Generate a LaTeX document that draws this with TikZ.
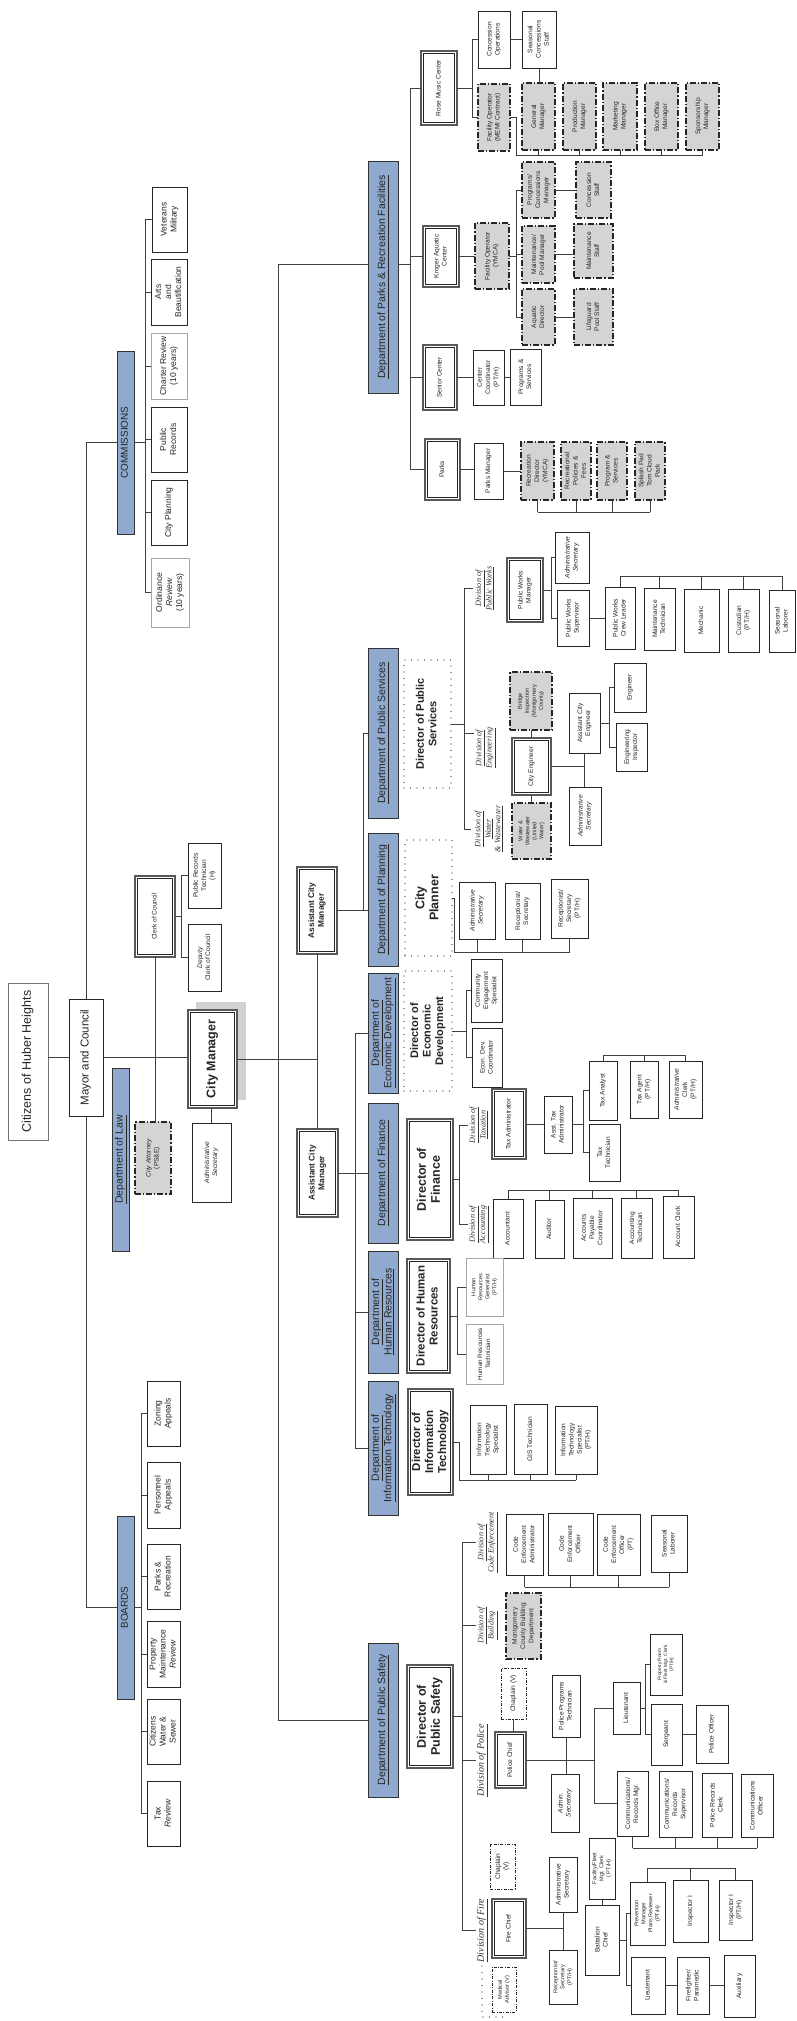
\documentclass[tikz,border=0pt]{standalone}
\usepackage{fontspec}
\setmainfont{Liberation Sans}
\newfontfamily\serifit{Liberation Serif}
\usepackage{graphicx}
\usetikzlibrary{calc}
\definecolor{barblue}{RGB}{143,170,206}
\newcommand\rt[1]{\rotatebox{90}{\begin{tabular}{@{}c@{}}#1\end{tabular}}}
\newcommand\obox[7]{\node[#6, minimum width={(#4)-(#2)}, minimum height={(#5)-(#3)}] (#1) at ({((#2)+(#4))/2},{((#3)+(#5))/2}) {\rt{#7}};}
\newcommand\dframe[1]{\draw[black!85, line width=0.6pt] ([shift={(2.3pt,-2.3pt)}]#1.north west) rectangle ([shift={(-2.3pt,2.3pt)}]#1.south east);}
\tikzset{
 base/.style={inner sep=0pt, outer sep=0pt, align=center, text=black!85},
 box/.style={base, draw=black!85, line width=0.7pt, fill=white, font=\fontsize{6.6}{8.2}\selectfont},
 sm/.style={font=\fontsize{5.6}{7}\selectfont},
 lbox/.style={box, draw=black!35, line width=1pt},
 dblbox/.style={box, draw=black!65, line width=1.5pt},
 gbox/.style={box, fill=black!17, draw=black!85, line width=1.3pt, dash pattern=on 6pt off 2pt on 1.2pt off 2pt},
 vbox/.style={box, line width=0.6pt, dash pattern=on 3pt off 1.5pt on 0.8pt off 1.5pt},
 dotbox/.style={base, draw=black!85, line width=1.3pt, line cap=round, dash pattern=on 0pt off 6.5pt, font=\bfseries\fontsize{11}{12.5}\selectfont},
 bar/.style={base, draw=black!80, line width=0.8pt, fill=barblue, text=black!85, font=\fontsize{10.5}{12}\selectfont},
 bigbox/.style={dblbox, font=\bfseries\fontsize{11.5}{13}\selectfont},
 cbox/.style={box, font=\fontsize{8.5}{10}\selectfont},
 dlab/.style={base, font=\serifit\itshape\fontsize{8.2}{9.5}\selectfont, text=black!80},
 conn/.style={draw=black!75, line width=0.65pt},
}
\begin{document}
\begin{tikzpicture}[x=1pt,y=-1pt]
\useasboundingbox (0,0) rectangle (796,2021);
\fill[white] (0,0) rectangle (796,2021);
% ---------- top level ----------
\obox{cit}{8}{983}{48}{1140}{box,draw=black!55,font=\fontsize{12.5}{14}\selectfont}{Citizens of Huber Heights}
\obox{may}{69}{999}{103}{1116}{box,font=\fontsize{11.5}{13}\selectfont}{Mayor and Council}
\obox{com}{117}{351}{134}{534}{bar,font=\fontsize{10}{12}\selectfont}{COMMISSIONS}
\obox{brd}{117}{1516}{134}{1699}{bar,font=\fontsize{10}{12}\selectfont}{BOARDS}
\obox{law}{112}{1068}{129}{1251}{bar}{\underline{Department of Law}}
% commissions
\obox{vet}{152}{187}{187}{252}{cbox}{Veterans\\Military}
\obox{arts}{151}{259}{187}{325}{cbox}{Arts\\and\\Beautification}
\obox{chr}{151}{333}{187}{399}{cbox,draw=black!35,line width=1pt}{Charter Review\\(10 years)}
\obox{prec}{151}{407}{187}{472}{cbox}{Public\\Records}
\obox{cpl}{151}{480}{187}{545}{cbox}{City Planning}
\obox{ord}{151}{558}{189}{627}{cbox,draw=black!35,line width=1pt}{Ordinance\\\textit{Review}\\(10 years)}
% boards
\obox{zon}{147}{1381}{180}{1446}{cbox}{Zoning\\Appeals}
\obox{pers}{147}{1462}{180}{1528}{cbox}{Personnel\\Appeals}
\obox{pr}{147}{1544}{180}{1609}{cbox}{Parks \&\\Recreation}
\obox{pm}{147}{1621}{180}{1687}{cbox}{Property\\Maintenance\\\textit{Review}}
\obox{cws}{147}{1699}{180}{1764}{cbox}{Citizens\\Water \&\\Sewer}
\obox{tax}{147}{1781}{180}{1846}{cbox}{Tax\\\textit{Review}}
% council / manager
\obox{clerk}{135}{876}{175}{957}{dblbox}{Clerk of Council}
\obox{prt}{188}{843}{221}{908}{box}{Public Records\\Technician\\(H)}
\obox{dcc}{188}{924}{221}{991}{box}{\textit{Deputy}\\Clerk of Council}
\obox{atty}{135}{1122}{171}{1194}{gbox}{\textit{City Attorney}\\(PS\&E)}
\fill[black!18] (196,1002) rectangle (246,1100);
\obox{cm}{188}{1010}{237}{1108}{bigbox,line width=2pt,font=\bfseries\fontsize{12.5}{14}\selectfont}{City Manager}
\obox{cmsec}{192}{1123}{231}{1202}{box}{\textit{Administrative}\\\textit{Secretary}}
\obox{acm1}{297}{867}{337}{954}{bigbox,font=\bfseries\fontsize{8.3}{9.8}\selectfont}{Assistant City\\Manager}
\obox{acm2}{297}{1129}{338}{1217}{bigbox,font=\bfseries\fontsize{8.3}{9.8}\selectfont}{Assistant City\\Manager}
% department bars
\obox{parksbar}{368}{161}{398}{393}{bar}{\underline{Department of Parks \& Recreation Facilities}}
\obox{dps}{368}{648}{398}{818}{bar}{\underline{Department of Public Services}}
\obox{dplan}{368}{833}{398}{966}{bar}{\underline{Department of Planning}}
\obox{deco}{368}{973}{398}{1093}{bar}{\underline{Department of}\\\underline{Economic Development}}
\obox{dfin}{368}{1103}{398}{1243}{bar}{\underline{Department of Finance}}
\obox{dhr}{368}{1251}{398}{1373}{bar}{\underline{Department of}\\\underline{Human Resources}}
\obox{dit}{368}{1381}{398}{1515}{bar}{\underline{Department of}\\\underline{Information Technology}}
\obox{dpsaf}{368}{1643}{398}{1797}{bar}{\underline{Department of Public Safety}}
% ---------- parks ----------
\obox{rose}{421}{51}{457}{125}{dblbox}{Rose Music Center}
\obox{krog}{423}{226}{459}{287}{dblbox}{Kroger Aquatic\\Center}
\obox{senior}{423}{345}{457}{410}{dblbox}{Senior Center}
\obox{parks}{425}{439}{460}{500}{dblbox}{Parks}
\obox{conc}{478}{11}{510}{68}{box}{Concession\\Operations}
\obox{scs}{522}{11}{556}{68}{box}{Seasonal\\Concessions\\Staff}
\obox{fomemi}{478}{84}{510}{151}{gbox}{Facility Operator\\(MEMI Contract)}
\obox{gm}{522}{83}{555}{150}{gbox}{General\\Manager}
\obox{prodm}{563}{83}{596}{150}{gbox}{Production\\Manager}
\obox{mktm}{603}{83}{637}{150}{gbox}{Marketing\\Manager}
\obox{boxm}{645}{83}{678}{150}{gbox}{Box Office\\Manager}
\obox{spm}{686}{83}{719}{150}{gbox}{Sponsorship\\Manager}
\obox{foy}{475}{223}{509}{289}{gbox}{Facility Operator\\(YMCA)}
\obox{pcm}{522}{162}{555}{218}{gbox}{Programs/\\Concessions\\Manager}
\obox{mpm}{522}{226}{555}{283}{gbox}{Maintenance/\\Pool Manager}
\obox{aqd}{522}{289}{555}{345}{gbox}{Aquatic\\Director}
\obox{cst}{576}{162}{611}{218}{gbox}{Concession\\Staff}
\obox{mst}{574}{224}{613}{278}{gbox}{Maintenance\\Staff}
\obox{lps}{574}{289}{613}{345}{gbox}{Lifeguard\\Pool Staff}
\obox{ccoord}{473}{350}{504}{405}{box}{Center\\Coordinator\\(PT/H)}
\obox{psv}{510}{349}{541}{405}{box}{Programs \&\\Services}
\obox{pmgr}{474}{443}{503}{499}{box}{Parks Manager}
\obox{recd}{521}{442}{554}{500}{gbox}{Recreation\\Director\\(YMCA)}
\obox{rpf}{561}{442}{591}{500}{gbox}{Recreational\\Policies \&\\Fees}
\obox{pgs}{597}{442}{627}{500}{gbox}{Program \&\\Services}
\obox{spl}{635}{442}{665}{500}{gbox}{Splash Pad\\Tom Cloud\\Park}
% ---------- public services ----------
\obox{dpsdir}{404}{660}{451}{788}{dotbox}{Director of Public\\Services}
\obox{divpw}{473}{560}{496}{617}{dlab}{\underline{Division of}\\\underline{Public Works}}
\obox{diveng}{474}{723}{496}{773}{dlab}{\underline{Division of}\\\underline{Engineering}}
\obox{divww}{471}{800}{506}{858}{dlab}{\underline{Division of}\\\underline{Water}\\\underline{\& Wastewater}}
\obox{pwm}{507}{558}{543}{622}{dblbox}{Public Works\\Manager}
\obox{asec1}{555}{532}{589}{583}{box}{\textit{Administrative}\\\textit{Secretary}}
\obox{pws}{557}{590}{589}{646}{box}{Public Works\\Supervisor}
\obox{pwcl}{605}{587}{635}{649}{box}{Public Works\\Crew Leader}
\obox{mtech}{644}{588}{675}{650}{box}{Maintenance\\Technician}
\obox{mech}{684}{589}{719}{652}{box}{Mechanic}
\obox{cust}{728}{589}{759}{652}{box}{Custodian\\(PT/H)}
\obox{slab1}{769}{590}{795}{652}{box}{Seasonal\\Laborer}
\obox{ceng}{512}{738}{551}{795}{dblbox}{City Engineer}
\obox{bridge}{510}{672}{552}{730}{gbox,sm}{Bridge\\Inspection\\(Montgomery\\County)}
\obox{wat}{512}{803}{551}{859}{gbox,sm}{Water \&\\Wastewater\\(United\\Water)}
\obox{ace}{569}{693}{600}{753}{box}{Assistant City\\Engineer}
\obox{asec2}{569}{787}{601}{845}{box}{\textit{Administrative}\\\textit{Secretary}}
\obox{eng}{614}{663}{646}{712}{box}{Engineer}
\obox{einsp}{616}{723}{647}{771}{box}{Engineering\\Inspector}
% ---------- planning ----------
\obox{cplan}{405}{840}{452}{956}{dotbox,font=\bfseries\fontsize{12.5}{14}\selectfont}{City\\Planner}
\obox{asec3}{459}{882}{495}{939}{box}{\textit{Administrative}\\\textit{Secretary}}
\obox{rsec}{505}{883}{540}{939}{box}{Receptionist/\\Secretary}
\obox{rsec2}{551}{879}{588}{938}{box}{Receptionist/\\Secretary\\(PT/H)}
% ---------- economic development ----------
\obox{decdir}{404}{971}{452}{1091}{dotbox}{Director of\\Economic\\Development}
\obox{ces}{471}{959}{502}{1022}{box}{Community\\Engagement\\Specialist}
\obox{edc}{472}{1028}{502}{1087}{box}{Econ. Dev.\\Coordinator}
% ---------- finance ----------
\obox{dfdir}{407}{1119}{453}{1240}{bigbox,font=\bfseries\fontsize{12.5}{14}\selectfont}{Director of\\Finance}
\obox{divtax}{468}{1100}{489}{1150}{dlab}{\underline{Division of}\\\underline{Taxation}}
\obox{divacc}{468}{1202}{489}{1247}{dlab}{\underline{Division of}\\\underline{Accounting}}
\obox{taxa}{492}{1089}{526}{1159}{dblbox}{Tax Administrator}
\obox{ata}{544}{1096}{572}{1153}{box}{Asst. Tax\\Administrator}
\obox{tan}{589}{1061}{617}{1120}{box}{Tax Analyst}
\obox{tag}{630}{1061}{658}{1118}{box}{Tax Agent\\(PT/H)}
\obox{aclk}{669}{1061}{702}{1118}{box}{\textit{Administrative}\\Clerk\\(PT/H)}
\obox{ttech}{589}{1124}{620}{1181}{box}{Tax\\Technician}
\obox{acct}{493}{1199}{523}{1258}{box}{Accountant}
\obox{aud}{535}{1200}{564}{1258}{box}{Auditor}
\obox{apc}{573}{1198}{612}{1258}{box}{Accounts\\Payable\\Coordinator}
\obox{atech}{621}{1198}{652}{1258}{box}{Accounting\\Technician}
\obox{aclerk}{663}{1196}{694}{1258}{box}{Account Clerk}
% ---------- human resources ----------
\obox{dhrdir}{407}{1259}{450}{1373}{bigbox,font=\bfseries\fontsize{11.5}{13}\selectfont}{Director of Human\\Resources}
\obox{hrg}{466}{1258}{503}{1316}{lbox,sm}{Human\\Resources\\Generalist\\(PT/H)}
\obox{hrt}{466}{1324}{503}{1384}{lbox,font=\fontsize{6.3}{8}\selectfont}{Human Resources\\Technician}
% ---------- IT ----------
\obox{ditdir}{408}{1389}{453}{1495}{bigbox,font=\bfseries\fontsize{11.5}{13}\selectfont}{Director of\\Information\\Technology}
\obox{its}{470}{1405}{506}{1474}{box}{Information\\Technology\\Specialist}
\obox{gis}{514}{1404}{547}{1474}{box}{GIS Technician}
\obox{its2}{555}{1406}{597}{1474}{box}{Information\\Technology\\Specialist\\(PT/H)}
% ---------- public safety ----------
\obox{dpsdir2}{407}{1665}{453}{1768}{bigbox,font=\bfseries\fontsize{12.5}{14}\selectfont}{Director of\\Public Safety}
\obox{divce}{476}{1505}{498}{1580}{dlab}{\underline{Division of}\\\underline{Code Enforcement}}
\obox{divb}{476}{1606}{498}{1645}{dlab}{\underline{Division of}\\\underline{Building}}
\obox{divpol}{476}{1723}{488}{1798}{dlab,font=\serifit\itshape\fontsize{10}{11}\selectfont}{\underline{Division of Police}}
\obox{divfire}{476}{1898}{488}{1963}{dlab,font=\serifit\itshape\fontsize{10}{11}\selectfont}{\underline{Division of Fire}}
\obox{ceadm}{506}{1514}{543}{1575}{box}{Code\\Enforcement\\Administrator}
\obox{ceo}{548}{1513}{593}{1575}{box}{Code\\Enforcement\\Officer}
\obox{ceopt}{597}{1514}{640}{1575}{box}{Code\\Enforcement\\Officer\\(PT)}
\obox{slab2}{651}{1515}{687}{1572}{box}{Seasonal\\Laborer}
\obox{mcbd}{506}{1593}{541}{1659}{gbox}{Montgomery\\County Building\\Department}
\obox{pchief}{495}{1732}{526}{1788}{dblbox}{Police Chief}
\obox{chap1}{501}{1668}{526}{1719}{vbox}{Chaplain (V)}
\obox{ppt}{552}{1675}{580}{1737}{box}{Police Programs\\Technician}
\obox{asec4}{551}{1774}{579}{1832}{box}{\textit{Admin.}\\\textit{Secretary}}
\obox{plt}{613}{1682}{640}{1734}{box}{Lieutenant}
\obox{prf}{650}{1634}{682}{1695}{box,font=\fontsize{4.8}{6}\selectfont}{Property Room\\\& Fleet Mgt. Clerk\\(PT/H)}
\obox{sgt}{651}{1704}{682}{1765}{box}{Sergeant}
\obox{pof}{696}{1705}{728}{1763}{box}{Police Officer}
\obox{crm}{617}{1771}{648}{1836}{box}{Communications/\\Records Mgr.}
\obox{crs}{659}{1771}{692}{1837}{box}{Communications/\\Records\\Supervisor}
\obox{prc}{702}{1773}{732}{1837}{box}{Police Records\\Clerk}
\obox{cof}{741}{1774}{773}{1837}{box}{Communications\\Officer}
\obox{fchief}{492}{1899}{526}{1958}{dblbox}{Fire Chief}
\obox{chap2}{490}{1844}{515}{1889}{vbox}{Chaplain\\(V)}
\obox{madv}{492}{1967}{516}{2012}{vbox,sm}{Medical\\Advisor (V)}
\obox{asec5}{549}{1857}{577}{1912}{box}{Administrative\\Secretary}
\obox{rsec3}{549}{1950}{577}{2004}{box,sm}{Receptionist/\\Secretary\\(PT/H)}
\obox{ffmc}{589}{1838}{615}{1899}{box,sm}{Facility/Fleet\\Mgt. Clerk\\( PT/H)}
\obox{bchief}{585}{1905}{619}{1975}{box}{Battalion\\Chief}
\obox{pmpr}{630}{1882}{665}{1945}{box,sm}{Prevention\\Manager\\Plans Reviewer\\(PT/H)}
\obox{insp1}{673}{1880}{708}{1942}{box}{Inspector I}
\obox{insp2}{719}{1880}{752}{1940}{box}{Inspector I\\(PT/H)}
\obox{flt}{631}{1957}{665}{2014}{box}{Lieutenant}
\obox{ffp}{677}{1957}{709}{2014}{box}{Firefighter/\\Paramedic}
\obox{aux}{724}{1955}{755}{2017}{box}{Auxiliary}
\draw[line width=1.3pt, line cap=round, dash pattern=on 0pt off 6.5pt, draw=black!85] (482,1966) -- (482,2017) -- (506,2017);
% inner frames of the double-bordered boxes
\foreach \n in {clerk,cm,acm1,acm2,rose,krog,senior,parks,pwm,ceng,dfdir,taxa,dhrdir,ditdir,dpsdir2,pchief,fchief} {\dframe{\n}}
% ================= connectors =================
\draw[conn, line width=1pt] (cit.east |- may.west) -- (may.west);
\draw[conn] (may.north) |- (com.west);
\draw[conn] (may.south) |- (brd.west);
\draw[conn] (may.east) -- (cm.west |- may.east);
\coordinate (cb) at (145,0);
\draw[conn] (com.east) -- (com.east -| cb);
\draw[conn] (cb |- vet.west) -- (cb |- ord.west);
\foreach \n in {vet,arts,chr,prec,cpl,ord} \draw[conn] (cb |- \n.west) -- (\n.west);
\coordinate (bb2) at (141,0);
\draw[conn] (brd.east) -- (brd.east -| bb2);
\draw[conn] (bb2 |- zon.west) -- (bb2 |- tax.west);
\foreach \n in {zon,pers,pr,pm,cws,tax} \draw[conn] (bb2 |- \n.west) -- (\n.west);
\draw[conn] (clerk.south) -- (clerk.south |- atty.north);
\coordinate (clb) at (181,0);
\draw[conn] (clerk.east) -- (clerk.east -| clb);
\draw[conn] (prt.west) -| (clb |- dcc.west) -- (dcc.west);
\draw[conn] (cmsec.north) -- (cmsec.north |- cm.south);
\draw[conn] (cm.east) -- (cm.east -| acm1.south);
\draw[conn] (acm1.south) -- (acm1.south |- acm2.north);
\coordinate (bbus) at (278,0);
\coordinate (pkj) at ([yshift=13pt]parksbar.west);
\coordinate (pkj2) at ([yshift=13pt]parksbar.east);
\draw[conn] (pkj) -| (bbus |- dpsaf.west) -- (dpsaf.west);
\coordinate (ab1) at (363,0);
\draw[conn] (acm1.east) -- (acm1.east -| dplan.west);
\draw[conn] (acm1.east -| ab1) |- (dps.west);
\coordinate (ab2) at (355,0);
\draw[conn] (acm2.east) -- (acm2.east -| dfin.west);
\draw[conn] (ab2 |- deco.west) -- (ab2 |- dit.west);
\foreach \n in {deco,dhr,dit} \draw[conn] (ab2 |- \n.west) -- (\n.west);
% parks
\coordinate (pb) at (410,0);
\draw[conn] (pkj2) -| (pb |- rose.west) -- (rose.west);
\draw[conn] (pb |- rose.west) -- (pb |- parks.west);
\foreach \n in {krog,senior,parks} \draw[conn] (pb |- \n.west) -- (\n.west);
\coordinate (rb1) at (472,0);
\draw[conn] (rose.east) -- (rose.east -| rb1);
\draw[conn] (conc.west) -| (rb1 |- fomemi.west) -- (fomemi.west);
\draw[conn] (conc.east) -- (scs.west);
\draw[conn] (scs.south) -- (scs.south |- gm.north);
\coordinate (rb2) at (516,155);
\draw[conn] (fomemi.east) -| (rb2) -- (rb2 -| spm.south);
\foreach \n in {gm,prodm,mktm,boxm,spm} \draw[conn] (\n.south) -- (\n.south |- rb2);
\draw[conn] (krog.east) -- (foy.west |- krog.east);
\coordinate (kb) at (516,0);
\draw[conn] (foy.east) -- (foy.east -| kb);
\draw[conn] (kb |- pcm.west) -- (kb |- aqd.west);
\foreach \n in {pcm,mpm,aqd} \draw[conn] (kb |- \n.west) -- (\n.west);
\draw[conn] (pcm.east) -- (cst.west |- pcm.east);
\draw[conn] (mpm.east) -- (mst.west |- mpm.east);
\draw[conn] (aqd.east) -- (lps.west |- aqd.east);
\draw[conn] (senior.east) -- (ccoord.west |- senior.east);
\draw[conn] (ccoord.east) -- (psv.west |- ccoord.east);
\draw[conn] (parks.east) -- (pmgr.west |- parks.east);
\draw[conn] (pmgr.east) -- (recd.west |- pmgr.east);
\coordinate (pkb) at (0,512);
\draw[conn] (recd.south |- pkb) -- (spl.south |- pkb);
\foreach \n in {recd,rpf,pgs,spl} \draw[conn] (\n.south) -- (\n.south |- pkb);
% public services
\coordinate (psb) at (464,0);
\coordinate (engj) at ([yshift=15pt]diveng.west);
\draw[conn] (dpsdir.east) -- (dpsdir.east -| psb);
\draw[conn] (divpw.west) -| (psb |- divww.west) -- (divww.west);
\draw[conn] (engj -| psb) -- (engj);
\coordinate (pwb) at (551,0);
\draw[conn] (pwm.east) -- (pwm.east -| pwb);
\draw[conn] (asec1.west) -| (pwb |- pws.west) -- (pws.west);
\draw[conn] (pws.east) -- (pwcl.west |- pws.east);
\coordinate (pwt) at (0,576);
\draw[conn] (pwcl.north |- pwt) -- (slab1.north |- pwt);
\foreach \n in {pwcl,mtech,mech,cust,slab1} \draw[conn] (\n.north) -- (\n.north |- pwt);
\draw[conn] (bridge.south) -- (bridge.south |- ceng.north);
\draw[conn] (ceng.south) -- (ceng.south |- wat.north);
\draw[conn] (ceng.east) -- (ceng.east -| ace.south);
\draw[conn] (ace.south) -- (ace.south |- asec2.north);
\coordinate (eb) at (609,0);
\draw[conn] (ace.east) -- (ace.east -| eb);
\draw[conn] (eng.west) -| (eb |- einsp.west) -- (einsp.west);
% planning
\coordinate (plb) at (454,952);
\draw[conn] (cplan.east) -| (plb) -- (plb -| rsec2.south);
\foreach \n in {asec3,rsec,rsec2} \draw[conn] (\n.south) -- (\n.south |- plb);
% economic development
\coordinate (edb) at (466,0);
\draw[conn] (decdir.east) -- (decdir.east -| edb);
\draw[conn] (ces.west) -| (edb |- edc.west) -- (edc.west);
% finance
\coordinate (fb) at (459,0);
\draw[conn] (dfdir.east) -- (dfdir.east -| fb);
\draw[conn] (divtax.west) -| (fb |- divacc.west) -- (divacc.west);
\draw[conn] (taxa.east) -- (ata.west |- taxa.east);
\coordinate (tb) at (583,0);
\draw[conn] (ata.east) -- (ata.east -| tb);
\draw[conn] (tan.west) -| (tb |- ttech.west) -- (ttech.west);
\coordinate (tt) at (0,1055);
\draw[conn] (tan.north |- tt) -- (aclk.north |- tt);
\foreach \n in {tan,tag,aclk} \draw[conn] (\n.north) -- (\n.north |- tt);
\coordinate (acb) at (0,1190);
\draw[conn] (acct.north |- acb) -- (aclerk.north |- acb);
\foreach \n in {acct,aud,apc,atech,aclerk} \draw[conn] (\n.north) -- (\n.north |- acb);
% human resources
\coordinate (hb) at (457,0);
\draw[conn] (dhrdir.east) -- (dhrdir.east -| hb);
\draw[conn] (hrg.west) -| (hb |- hrt.west) -- (hrt.west);
% IT
\coordinate (itb) at (459,1480);
\draw[conn] (ditdir.east) -| (itb) -- (itb -| its2.south);
\foreach \n in {its,gis,its2} \draw[conn] (\n.south) -- (\n.south |- itb);
% public safety
\coordinate (sb) at (462,0);
\draw[conn] (dpsdir2.east) -- (dpsdir2.east -| sb);
\draw[conn] (divce.west) -| (sb |- divfire.west) -- (divfire.west);
\foreach \n in {divb,divpol} \draw[conn] (sb |- \n.west) -- (\n.west);
\coordinate (ceb) at (0,1587);
\draw[conn] (ceadm.south |- ceb) -- (slab2.south |- ceb);
\foreach \n in {ceadm,ceo,ceopt,slab2} \draw[conn] (\n.south) -- (\n.south |- ceb);
\draw[conn] (chap1.south) -- (chap1.south |- pchief.north);
\coordinate (pob) at (594,0);
\draw[conn] (pchief.east) -- (pchief.east -| pob);
\draw[conn] (ppt.south) -- (ppt.south |- asec4.north);
\draw[conn] (plt.west) -| (pob |- crm.west) -- (crm.west);
\coordinate (ltb) at (645,0);
\draw[conn] (plt.east) -- (plt.east -| ltb);
\draw[conn] (prf.west) -| (ltb |- sgt.west) -- (sgt.west);
\draw[conn] (sgt.east) -- (pof.west |- sgt.east);
\coordinate (crb) at (0,1848);
\draw[conn] (crm.south |- crb) -- (cof.south |- crb);
\foreach \n in {crm,crs,prc,cof} \draw[conn] (\n.south) -- (\n.south |- crb);
\coordinate (fcb) at (563,0);
\draw[conn] (fchief.east) -- (fchief.east -| fcb);
\draw[conn] (asec5.south) -- (asec5.south |- rsec3.north);
\draw[conn] (ffmc.south) -- (ffmc.south |- bchief.north);
\coordinate (bcb) at (626,0);
\draw[conn] (bchief.east) -- (bchief.east -| bcb);
\draw[conn] (pmpr.west) -| (bcb |- flt.west) -- (flt.west);
\coordinate (ib) at (0,1868);
\draw[conn] (pmpr.north |- ib) -- (insp2.north |- ib);
\foreach \n in {pmpr,insp1,insp2} \draw[conn] (\n.north) -- (\n.north |- ib);
\draw[conn] (flt.east) -- (ffp.west |- flt.east);
\draw[conn] (ffp.east) -- (aux.west |- ffp.east);
\end{tikzpicture}
\end{document}
